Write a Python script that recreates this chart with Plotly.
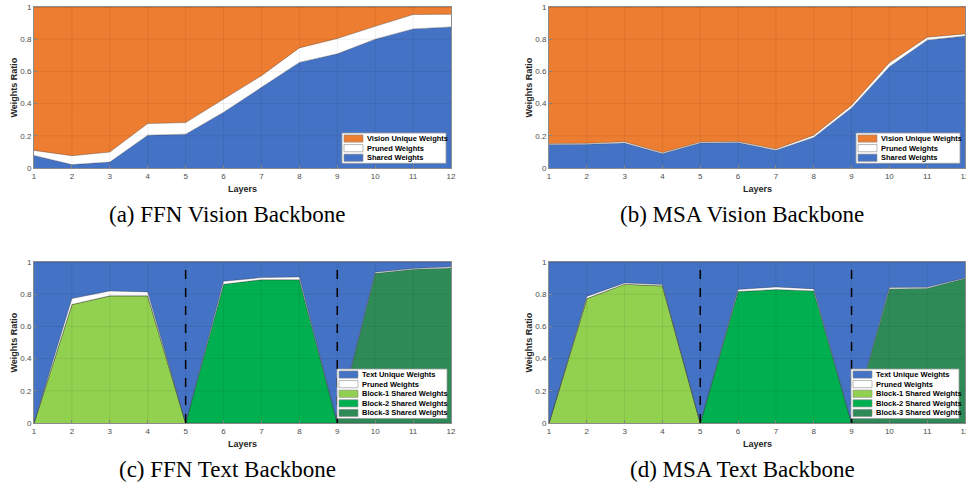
import plotly.graph_objects as go

W, H = 966, 483

layers = list(range(1, 13))
y_ticks = [0, 0.2, 0.4, 0.6, 0.8, 1]

# (a) FFN Vision Backbone
ffn_vis_shared = [0.078, 0.021, 0.037, 0.204, 0.210, 0.346, 0.501, 0.656, 0.709, 0.800, 0.864, 0.876]
ffn_vis_pruned = [0.031, 0.055, 0.062, 0.072, 0.072, 0.083, 0.072, 0.090, 0.095, 0.080, 0.089, 0.079]

# (b) MSA Vision Backbone
msa_vis_shared = [0.146, 0.148, 0.155, 0.090, 0.155, 0.159, 0.110, 0.190, 0.373, 0.629, 0.794, 0.820]
msa_vis_pruned = [0.006, 0.005, 0.008, 0.006, 0.006, 0.006, 0.008, 0.014, 0.017, 0.025, 0.018, 0.013]

# (c) FFN Text Backbone
ffn_txt_block1 = [0, 0.736, 0.790, 0.790, 0, 0, 0, 0, 0, 0, 0, 0]
ffn_txt_block2 = [0, 0, 0, 0, 0, 0.862, 0.890, 0.890, 0, 0, 0, 0]
ffn_txt_block3 = [0, 0, 0, 0, 0, 0, 0, 0, 0, 0.930, 0.955, 0.963]
ffn_txt_pruned = [0, 0.037, 0.030, 0.024, 0, 0.018, 0.013, 0.017, 0, 0.007, 0.005, 0.007]

# (d) MSA Text Backbone
msa_txt_block1 = [0, 0.773, 0.862, 0.852, 0, 0, 0, 0, 0, 0, 0, 0]
msa_txt_block2 = [0, 0, 0, 0, 0, 0.816, 0.829, 0.820, 0, 0, 0, 0]
msa_txt_block3 = [0, 0, 0, 0, 0, 0, 0, 0, 0, 0.833, 0.837, 0.897]
msa_txt_pruned = [0, 0.013, 0.008, 0.008, 0, 0.013, 0.016, 0.013, 0, 0.008, 0.006, 0.004]

block_boundaries = [5, 9]

captions = ["(a) FFN Vision Backbone", "(b) MSA Vision Backbone",
            "(c) FFN Text Backbone", "(d) MSA Text Backbone"]

C_BLUE = "#4472C4"
C_ORANGE = "#ED7D31"
C_WHITE = "#FFFFFF"
C_G1 = "#92D050"
C_G2 = "#00B050"
C_G3 = "#2E8B57"


def complement(*series):
    return [round(1 - sum(v), 4) for v in zip(*series)]


fig = go.Figure()

# panel geometry in pixels: (left, right, top, bottom) of plot area
panels = {
    1: (34, 451, 7, 168),
    2: (549, 965, 7, 168),
    3: (34, 451, 262, 423),
    4: (549, 965, 262, 423),
}

EDGE = dict(width=0.6, color="rgba(40,40,40,0.55)")


def add_stack(idx, series):
    ax = "" if idx == 1 else str(idx)
    for name, vals, col in series:
        fig.add_trace(go.Scatter(
            x=layers, y=vals, name=name, mode="lines",
            stackgroup=f"s{idx}", fillcolor=col, line=EDGE,
            xaxis="x" + ax, yaxis="y" + ax, showlegend=False,
            hoverinfo="x+y+name"))


add_stack(1, [
    ("Shared Weights", ffn_vis_shared, C_BLUE),
    ("Pruned Weights", ffn_vis_pruned, C_WHITE),
    ("Vision Unique Weights", complement(ffn_vis_shared, ffn_vis_pruned), C_ORANGE),
])
add_stack(2, [
    ("Shared Weights", msa_vis_shared, C_BLUE),
    ("Pruned Weights", msa_vis_pruned, C_WHITE),
    ("Vision Unique Weights", complement(msa_vis_shared, msa_vis_pruned), C_ORANGE),
])
add_stack(3, [
    ("Block-1 Shared Weights", ffn_txt_block1, C_G1),
    ("Block-2 Shared Weights", ffn_txt_block2, C_G2),
    ("Block-3 Shared Weights", ffn_txt_block3, C_G3),
    ("Pruned Weights", ffn_txt_pruned, C_WHITE),
    ("Text Unique Weights", complement(ffn_txt_block1, ffn_txt_block2, ffn_txt_block3, ffn_txt_pruned), C_BLUE),
])
add_stack(4, [
    ("Block-1 Shared Weights", msa_txt_block1, C_G1),
    ("Block-2 Shared Weights", msa_txt_block2, C_G2),
    ("Block-3 Shared Weights", msa_txt_block3, C_G3),
    ("Pruned Weights", msa_txt_pruned, C_WHITE),
    ("Text Unique Weights", complement(msa_txt_block1, msa_txt_block2, msa_txt_block3, msa_txt_pruned), C_BLUE),
])

TICKFONT = dict(family="Liberation Sans, Arial, sans-serif", size=8, color="#4d4d4d")
LABFONT = dict(family="Liberation Sans, Arial, sans-serif", size=9, color="#262626", weight="bold")

shapes = []
annotations = []

for idx, (l, r, t, b) in panels.items():
    ax = "" if idx == 1 else str(idx)
    xd = [l / W, r / W]
    yd = [1 - b / H, 1 - t / H]
    common = dict(showline=True, mirror=True, linecolor="#8c8c8c", linewidth=1,
                  ticks="inside", ticklen=3, tickcolor="#8c8c8c", automargin=False,
                  showgrid=False, zeroline=False, tickfont=TICKFONT, fixedrange=True,
                  ticklabeloverflow="allow")
    fig.update_layout(**{
        "xaxis" + ax: dict(domain=xd, range=[1, 12], tickmode="array", tickvals=layers,
                           anchor="y" + ax, **common),
        "yaxis" + ax: dict(domain=yd, range=[0, 1], tickmode="array", tickvals=y_ticks,
                           ticktext=[f"{v:g}" for v in y_ticks], anchor="x" + ax, **common),
    })
    xr, yr = "x" + ax, "y" + ax
    # grid lines drawn over the filled areas (faint)
    for v in layers[1:-1]:
        shapes.append(dict(type="line", xref=xr, yref=yr + " domain", x0=v, x1=v, y0=0, y1=1,
                           line=dict(color="rgba(0,0,0,0.09)", width=0.8), layer="above"))
    for v in y_ticks[1:-1]:
        shapes.append(dict(type="line", xref=xr + " domain", yref=yr, x0=0, x1=1, y0=v, y1=v,
                           line=dict(color="rgba(0,0,0,0.09)", width=0.8), layer="above"))
    if idx in (3, 4):
        for v in block_boundaries:
            shapes.append(dict(type="line", xref=xr, yref=yr + " domain", x0=v, x1=v, y0=0, y1=1,
                               line=dict(color="black", width=1.5, dash="dash"), layer="above"))
    # axis titles
    annotations.append(dict(text="Weights Ratio", x=(l - 21) / W, y=1 - (t + b) / 2 / H,
                            xref="paper", yref="paper", textangle=-90, showarrow=False,
                            xanchor="center", yanchor="middle", font=LABFONT))
    annotations.append(dict(text="Layers", x=(l + r) / 2 / W, y=1 - (b + 21) / H,
                            xref="paper", yref="paper", showarrow=False,
                            xanchor="center", yanchor="middle", font=LABFONT))
    # caption
    annotations.append(dict(text=captions[idx - 1], x=(l - 34 + 227) / W,
                            y=1 - (b + 46) / H, xref="paper", yref="paper", showarrow=False,
                            xanchor="center", yanchor="middle",
                            font=dict(family="Liberation Serif, Times New Roman, serif",
                                      size=23, color="black")))


# custom compact legends (MATLAB style)
def legend_box(left, top, width, entries):
    row_h = 9.6
    height = len(entries) * row_h + 1.5
    shapes.append(dict(type="rect", xref="paper", yref="paper",
                       x0=left / W, x1=(left + width) / W,
                       y0=1 - (top + height) / H, y1=1 - top / H,
                       fillcolor="white", line=dict(color="#9a9a9a", width=0.8), layer="above"))
    for i, (label, col) in enumerate(entries):
        cy = top + 0.75 + (i + 0.5) * row_h
        shapes.append(dict(type="rect", xref="paper", yref="paper",
                           x0=(left + 2) / W, x1=(left + 21) / W,
                           y0=1 - (cy + 3.6) / H, y1=1 - (cy - 3.6) / H,
                           fillcolor=col, line=dict(color="#8a8a8a", width=0.6), layer="above"))
        annotations.append(dict(text=label, x=(left + 22.5) / W, y=1 - cy / H,
                                xref="paper", yref="paper", showarrow=False,
                                xanchor="left", yanchor="middle",
                                font=dict(family="Liberation Sans, Arial, sans-serif", size=7.5,
                                          color="black", weight="bold")))


vis_entries = [("Vision Unique Weights", C_ORANGE), ("Pruned Weights", C_WHITE), ("Shared Weights", C_BLUE)]
txt_entries = [("Text Unique Weights", C_BLUE), ("Pruned Weights", C_WHITE),
               ("Block-1 Shared Weights", C_G1), ("Block-2 Shared Weights", C_G2),
               ("Block-3 Shared Weights", C_G3)]

legend_box(342, 133, 104, vis_entries)
legend_box(856, 133, 104, vis_entries)
legend_box(337, 369, 110, txt_entries)
legend_box(851, 369, 108, txt_entries)

fig.update_layout(
    width=W, height=H,
    margin=dict(l=0, r=0, t=0, b=0),
    paper_bgcolor="white", plot_bgcolor="white",
    showlegend=False,
    shapes=shapes, annotations=annotations,
)

fig.write_html(
    "out.html",
    config={"displayModeBar": False},
    post_script="document.body.style.margin='0px';document.body.style.padding='0px';"
                "document.documentElement.style.overflow='hidden';",
)
